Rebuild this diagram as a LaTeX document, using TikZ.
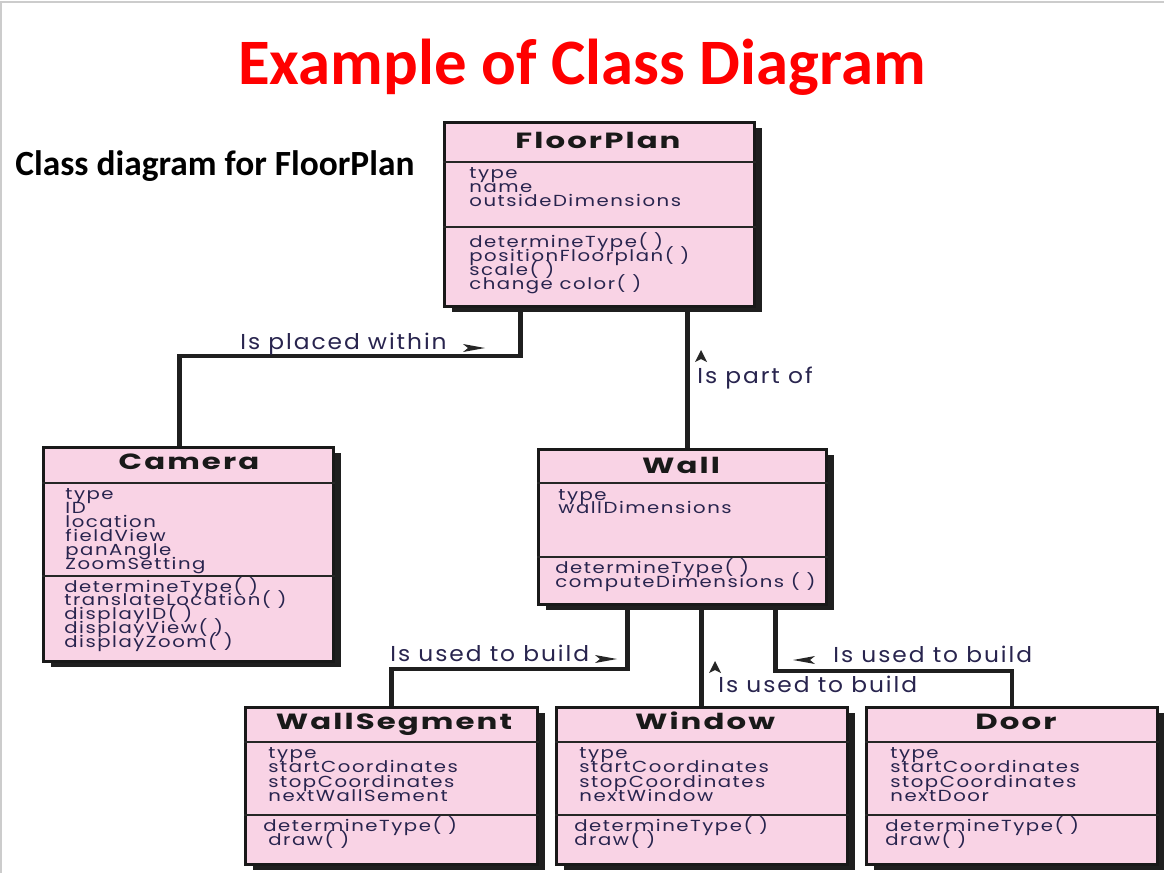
\documentclass[tikz,border=0pt]{standalone}
\usepackage{fontspec}
\setmainfont{Carlito}
\newfontfamily\boxfont[LetterSpace=9.5,FakeStretch=1.23]{Poppins}
\newfontfamily\relfont[LetterSpace=9,FakeStretch=1.08]{Poppins}
\newfontfamily\headfont[LetterSpace=9.5,FakeStretch=1.4]{Poppins}
\usetikzlibrary{shadows}
\definecolor{boxpink}{RGB}{249,211,229}
\definecolor{ink}{RGB}{40,36,78}
\definecolor{titlered}{RGB}{255,0,0}
\tikzset{
 classbox/.style={draw=black!90, line width=1.5pt, fill=boxpink, inner sep=0,
   drop shadow={shadow xshift=3.5pt, shadow yshift=-2.5pt, fill=black!88, opacity=1}},
 divider/.style={draw=black!85, line width=1.4pt},
 conn/.style={draw=black!88, line width=2.2pt},
 member/.style={font=\boxfont\fontsize{8}{8}\selectfont, text=ink, inner sep=0, anchor=base west},
 classname/.style={font=\headfont\bfseries\fontsize{11}{11}\selectfont, text=black!90, inner sep=0, anchor=base},
 rel/.style={font=\relfont\fontsize{10.8}{10.8}\selectfont, text=ink, inner sep=0, anchor=base west},
 tip/.style={fill=black!85},
}
\newcommand\umlclass[7]{%
  \pgfmathsetmacro\umlw{(#4-#2)*0.5}%
  \pgfmathsetmacro\umlh{(#5-#3)*0.5}%
  \node[classbox, minimum width=\umlw pt, minimum height=\umlh pt, anchor=north west] (#1) at (#2,#3) {};
  \draw[divider] (#1.west |- 0,#6) -- (#1.east |- 0,#6);
  \draw[divider] (#1.west |- 0,#7) -- (#1.east |- 0,#7);
}
\newcommand\umllines[5]{%
  \foreach \t [count=\i from 0] in {#5} \node[member] (#1\i) at (#2,{#3+#4*\i}) {\t};
}
\begin{document}
\begin{tikzpicture}[x=0.5pt,y=-0.5pt]
\useasboundingbox (0,0) rectangle (1164,873);
\fill[white] (0,0) rectangle (1164,873);
\draw[black!20, line width=0.8pt] (1,873) -- (1,2) -- (1164,2);

\node[font=\bfseries\fontsize{32.4}{33}\selectfont, text=titlered, anchor=base, inner sep=0] (title) at (582,84) {Example of Class Diagram};
\node[font=\bfseries\fontsize{17.7}{18}\selectfont, anchor=base west, inner sep=0] (sub) at (15,175) {Class diagram for FloorPlan};

% classes
\umlclass{fp}{443}{121}{753}{305}{162}{227}
\node[classname] (fpN) at (598,148) {FloorPlan};
\umllines{fpA}{469}{178}{14.3}{type,name,outsideDimensions}
\umllines{fpO}{469}{247}{14}{determineType( ),positionFloorplan( ),scale( ),change color( )}

\umlclass{cam}{42}{446}{332}{660}{483}{576}
\node[classname] (camN) at (189,469) {Camera};
\umllines{camA}{65}{499}{14.1}{type,ID,location,fieldView,panAngle,ZoomSetting}
\umllines{camO}{64}{592}{13.8}{determineType( ),translateLocation( ),displayID( ),displayView( ),displayZoom( )}

\umlclass{wall}{537}{448}{825}{603}{483}{557}
\node[classname] (wallN) at (681,473) {Wall};
\umllines{wallA}{558}{500}{13.5}{type,wallDimensions}
\umllines{wallO}{555}{573}{14}{determineType( ),computeDimensions ( )}

\umlclass{ws}{244}{706}{536}{863}{742}{815}
\node[classname] (wsN) at (394,729) {WallSegment};
\umllines{wsA}{268}{758}{14.6}{type,startCoordinates,stopCoordinates,nextWallSement}
\node[member] (wsO0) at (263,831) {determineType( )};
\node[member] (wsO1) at (268,845) {draw( )};

\umlclass{win}{555}{706}{846}{863}{742}{815}
\node[classname] (winN) at (705,729) {Window};
\umllines{winA}{579}{758}{14.6}{type,startCoordinates,stopCoordinates,nextWindow}
\umllines{winO}{574}{831}{14}{determineType( ),draw( )}

\umlclass{door}{865}{706}{1156}{863}{742}{815}
\node[classname] (doorN) at (1016,729) {Door};
\umllines{doorA}{890}{758}{14.6}{type,startCoordinates,stopCoordinates,nextDoor}
\umllines{doorO}{885}{831}{14}{determineType( ),draw( )}

% connectors
\draw[conn] ([xshift=-39.5pt]fp.south) -- ++(0,48) -| ([xshift=-4.5pt]cam.north);
\draw[conn] ([xshift=44pt]fp.south) -- ([xshift=44pt]fp.south |- wall.north);
\draw[conn] ([xshift=-27.5pt]wall.south) -- ++(0,63) -| (ws.north);
\draw[conn] ([xshift=9.5pt]wall.south) -- ([xshift=9.5pt]wall.south |- win.north);
\draw[conn] ([xshift=46.5pt]wall.south) -- ++(0,65) -| (door.north);

% relation labels
\node[rel] (l1) at (240,349) {Is placed within};
\fill[tip] (463,344) -- (485,348) -- (463,352) -- (468,348) -- cycle;
\node[rel] (l2) at (697,383) {Is part of};
\fill[tip] (701,350) -- (707,362) -- (701,359) -- (695,362) -- cycle;
\node[rel] (l3) at (390,661) {Is used to build};
\fill[tip] (595,655) -- (617,659) -- (595,663) -- (600,659) -- cycle;
\node[rel] (l4) at (718,692) {Is used to build};
\fill[tip] (715,661) -- (721,673) -- (715,670) -- (709,673) -- cycle;
\node[rel] (l5) at (833,662) {Is used to build};
\fill[tip] (793,660) -- (815,656) -- (810,660) -- (815,664) -- cycle;
\end{tikzpicture}
\end{document}
